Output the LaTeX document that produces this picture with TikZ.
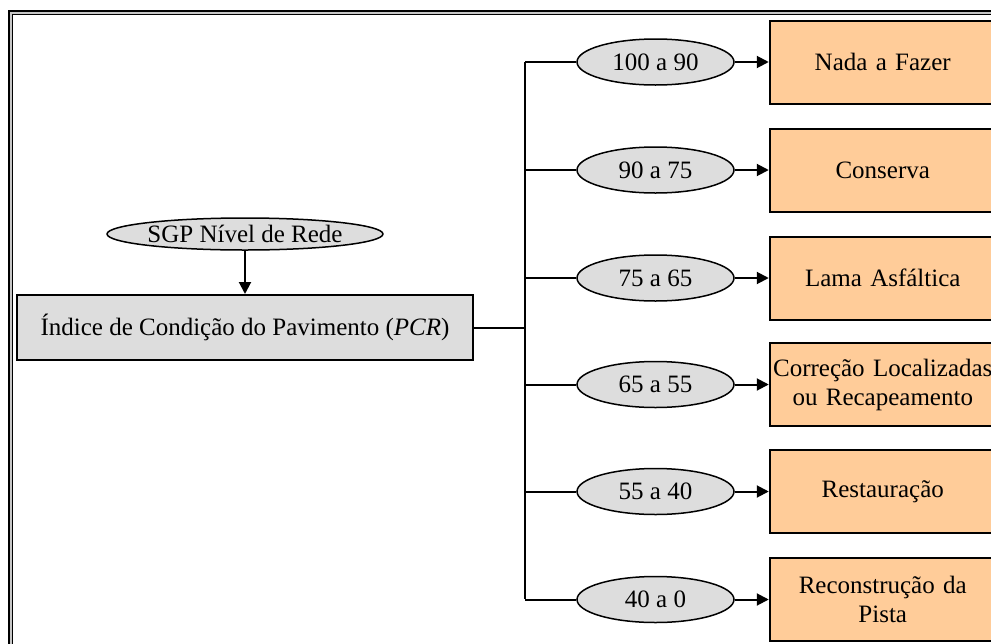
\documentclass[tikz,border=0pt]{standalone}
\usepackage{fontspec}
\setmainfont{Liberation Serif}
\usetikzlibrary{
    arrows.meta,
    shapes.geometric,
    positioning
}

\definecolor{cinza}{HTML}{DDDDDD}
\definecolor{laranja}{HTML}{FFCC99}

\tikzset{
    faixa/.style={ellipse,draw,fill=cinza,line width=1.5pt,
        minimum width=157pt,minimum height=46pt,inner sep=0pt},
    acao/.style={rectangle,draw,fill=laranja,line width=2pt,
        minimum width=226pt,minimum height=83pt,text width=222pt,
        align=center,inner sep=0pt},
    seta/.style={line width=2pt,-{Triangle[length=12pt,width=12pt]}}
}

\begin{document}
\begin{tikzpicture}[x=1pt,y=-1pt,font=\fontsize{25}{29}\selectfont]
    \useasboundingbox (0,0) rectangle (991,643);

    % moldura dupla
    \draw[line width=1.5pt,double=gray!45,double distance=2pt]
        (10.5,12.5) rectangle (1012,665);

    % entrada
    \node[ellipse,draw,fill=cinza,line width=1.5pt,inner sep=0pt,
          minimum width=243pt,minimum height=32pt] (sgp) at (245,234) {SGP Nível de Rede};
    \node[rectangle,draw,fill=cinza,line width=2pt,
          minimum width=456pt,minimum height=65pt] (pcr) at (245,327.5)
          {Índice de Condição do Pavimento (\textit{PCR})};
    \draw[seta] (sgp) -- (pcr);

    % tronco
    \coordinate (tronco) at (525,327.5);
    \coordinate (topo) at (525,62);
    \coordinate (base) at (525,599);
    \draw[line width=2pt] (pcr.east) -- (tronco);
    \draw[line width=2pt] (topo) -- (base);

    % faixas do PCR e intervencoes
    \foreach \i/\y/\f/\a in {
        1/62/100 a 90/Nada a Fazer,
        2/170/90 a 75/Conserva,
        3/278/75 a 65/Lama Asfáltica,
        4/384.5/65 a 55/{Correção Localizadas\\ou Recapeamento},
        5/491.5/55 a 40/Restauração,
        6/599.5/40 a 0/{Reconstrução da\\Pista}}{
        \node[faixa] (f\i) at (655.5,\y) {\f};
        \node[acao,right=34pt of f\i] (a\i) {\a};
        \draw[line width=2pt] (tronco |- f\i) -- (f\i.west);
        \draw[seta] (f\i.east) -- (a\i.west);
    }
\end{tikzpicture}
\end{document}
